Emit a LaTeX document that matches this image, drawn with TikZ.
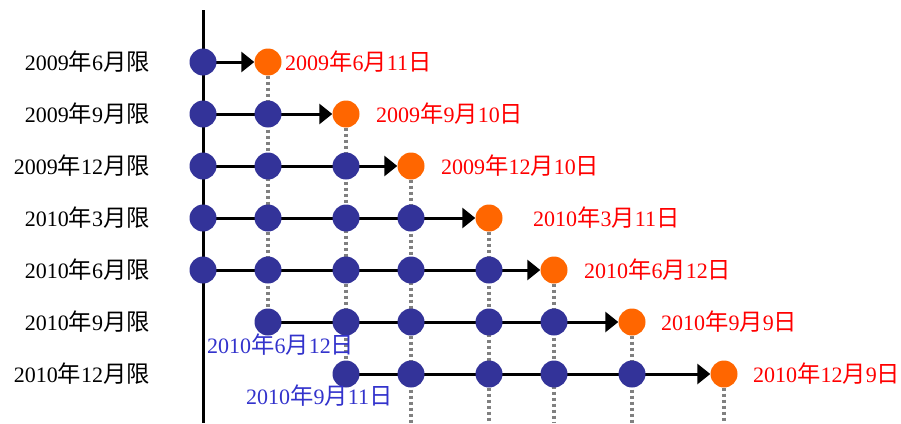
\documentclass[tikz,border=0pt]{standalone}
\usepackage{fontspec}
\setmainfont{Liberation Serif}
\newfontfamily\cjk[Scale=1.06]{Noto Sans CJK SC}
\usetikzlibrary{arrows.meta,backgrounds}
\newcommand\cjY{{\cjk 年}}
\newcommand\cjM{{\cjk 月}}
\newcommand\cjD{{\cjk 日}}
\newcommand\cjX{{\cjk 限}}
\definecolor{dotblue}{HTML}{333399}
\definecolor{dotorange}{HTML}{FF6600}
\definecolor{txtred}{HTML}{FF0000}
\definecolor{txtblue}{HTML}{3333CC}
\definecolor{dotgray}{HTML}{808080}
\begin{document}
\begin{tikzpicture}[x=1pt,y=-1pt,
  bdot/.style={circle,fill=dotblue,minimum size=27pt,inner sep=0pt},
  odot/.style={circle,fill=dotorange,minimum size=27pt,inner sep=0pt},
  arr/.style={line width=3pt,-{Triangle[length=13pt,width=20pt]}},
  plain/.style={line width=3pt},
  dotline/.style={line width=3.2pt,dotgray,dash pattern=on 3pt off 3pt},
  lab/.style={inner sep=0pt,font=\fontsize{22}{25}\selectfont},
  redlab/.style={lab,anchor=west,text=txtred},
  bluelab/.style={lab,anchor=west,text=txtblue},
  leftlab/.style={lab,anchor=east,text=black}]
\useasboundingbox (0,0) rectangle (901,423);
\foreach \c/\x in {0/203,1/268,2/346,3/411,4/489,5/554,6/632,7/724}
  \coordinate (X\c) at (\x,0);
\foreach \r/\y in {1/62,2/114,3/166,4/218,5/270,6/322,7/374}
  \coordinate (Y\r) at (0,\y);
\foreach \r/\s in {1/0,2/0,3/0,4/0,5/0,6/1,7/2}{
  \pgfmathtruncatemacro\e{\r-1}
  \foreach \c in {\s,...,\e}{\node[bdot] (n\r\c) at (X\c |- Y\r) {};}
  \node[odot] (n\r\r) at (X\r |- Y\r) {};
}
\coordinate (axtop) at (203,10);
\coordinate (axbot) at (203,423);
\foreach \c in {3,...,7} \coordinate (b\c) at (X\c |- axbot);
\begin{pgfonlayer}{background}
  \draw[plain] (axtop) -- (axbot);
  \draw[dotline] (n11) -- (n61.center);
  \draw[dotline] (n22) -- (n72.center);
  \foreach \c in {3,...,7} \draw[dotline] (n\c\c) -- (b\c);
  \foreach \r/\s in {1/0,2/0,3/0,4/0,5/0,6/1,7/2}
    \draw[arr] (n\r\s.center) -- (n\r\r);
\end{pgfonlayer}
% left labels
\node[leftlab] (l1) at (150,62) {2009\cjY6\cjM\cjX};
\node[leftlab] (l2) at (150,114) {2009\cjY9\cjM\cjX};
\node[leftlab] (l3) at (150,166) {2009\cjY12\cjM\cjX};
\node[leftlab] (l4) at (150,218) {2010\cjY3\cjM\cjX};
\node[leftlab] (l5) at (150,270) {2010\cjY6\cjM\cjX};
\node[leftlab] (l6) at (150,322) {2010\cjY9\cjM\cjX};
\node[leftlab] (l7) at (150,374) {2010\cjY12\cjM\cjX};
% red labels
\node[redlab] (d1) at (285,62) {2009\cjY6\cjM11\cjD};
\node[redlab] (d2) at (376,114) {2009\cjY9\cjM10\cjD};
\node[redlab] (d3) at (441,166) {2009\cjY12\cjM10\cjD};
\node[redlab] (d4) at (533,218) {2010\cjY3\cjM11\cjD};
\node[redlab] (d5) at (584,270) {2010\cjY6\cjM12\cjD};
\node[redlab] (d6) at (661,322) {2010\cjY9\cjM9\cjD};
\node[redlab] (d7) at (753,374) {2010\cjY12\cjM9\cjD};
% blue labels
\node[bluelab] (e6) at (207,345) {2010\cjY6\cjM12\cjD};
\node[bluelab] (e7) at (246,396) {2010\cjY9\cjM11\cjD};
\end{tikzpicture}
\end{document}
